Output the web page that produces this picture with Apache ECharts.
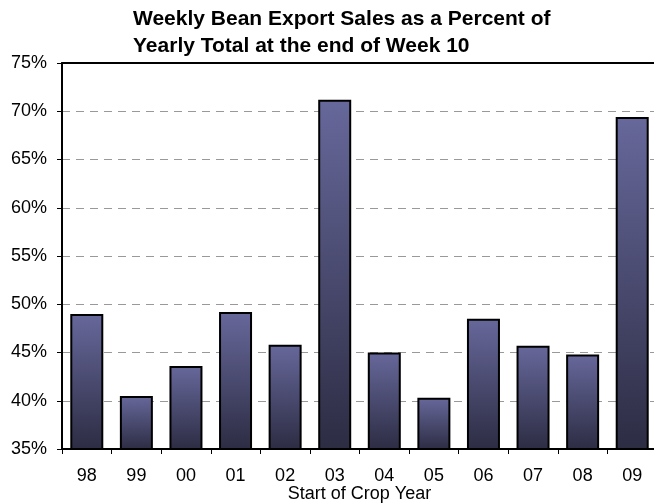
<!DOCTYPE html>
<html>
<head>
<meta charset="utf-8">
<script src="https://cdn.jsdelivr.net/npm/echarts@6/dist/echarts.min.js"></script>
<style>
  html, body { margin: 0; padding: 0; background: #fff; }
  #chart { width: 654px; height: 504px; }
</style>
</head>
<body>
<div id="chart"></div>
<script>
var years = ["98", "99", "00", "01", "02", "03", "04", "05", "06", "07", "08", "09"];
// percent of yearly total at end of week 10
var pctValues = [49.0, 40.5, 43.6, 49.2, 45.8, 71.2, 45.0, 40.3, 48.5, 45.7, 44.8, 69.4];

var chart = echarts.init(document.getElementById("chart"));
var font = "Liberation Sans, Arial, sans-serif";

var option = {
  animation: false,
  title: {
    text: "Weekly Bean Export Sales as a Percent of\nYearly Total at the end of Week 10",
    left: 128,
    top: 1,
    textStyle: {
      fontFamily: font,
      fontSize: 21,
      fontWeight: "bold",
      color: "#000",
      lineHeight: 27,
    },
  },
  grid: {
    left: 62,
    top: 63,
    right: -3,
    height: 386,
    outerBoundsMode: "none",
  },
  xAxis: [
    {
      type: "category",
      data: years,
      boundaryGap: true,
      name: "Start of Crop Year",
      nameLocation: "middle",
      nameGap: 36,
      nameMoveOverlap: false,
      nameTextStyle: { fontFamily: font, fontSize: 18, color: "#000" },
      axisLine: { lineStyle: { color: "#000", width: 2 } },
      axisTick: { show: true, length: 5, lineStyle: { color: "#000", width: 1 } },
      axisLabel: { fontFamily: font, fontSize: 18, color: "#000", margin: 18 },
    },
    {
      type: "category",
      data: years,
      position: "top",
      axisLine: { lineStyle: { color: "#000", width: 2 } },
      axisTick: { show: false },
      axisLabel: { show: false },
    },
  ],
  yAxis: {
    type: "value",
    min: 35,
    max: 75,
    interval: 5,
    axisLine: { show: true, lineStyle: { color: "#000", width: 2 } },
    axisTick: { show: true, length: 5, lineStyle: { color: "#000", width: 1 } },
    axisLabel: {
      fontFamily: font,
      fontSize: 18,
      color: "#000",
      margin: 15,
      formatter: "{value}%",
    },
    splitLine: {
      show: true,
      lineStyle: { color: "#999", type: [8, 6], width: 1 },
    },
  },
  series: [
    {
      type: "bar",
      data: pctValues,
      barWidth: 33,
      itemStyle: {
        color: {
          type: "linear",
          x: 0, y: 0, x2: 0, y2: 1,
          colorStops: [
            { offset: 0, color: "#67689b" },
            { offset: 1, color: "#2c2c43" },
          ],
        },
        borderColor: "#000",
        borderWidth: 2,
      },
    },
  ],
};
chart.setOption(option);
</script>
</body>
</html>
